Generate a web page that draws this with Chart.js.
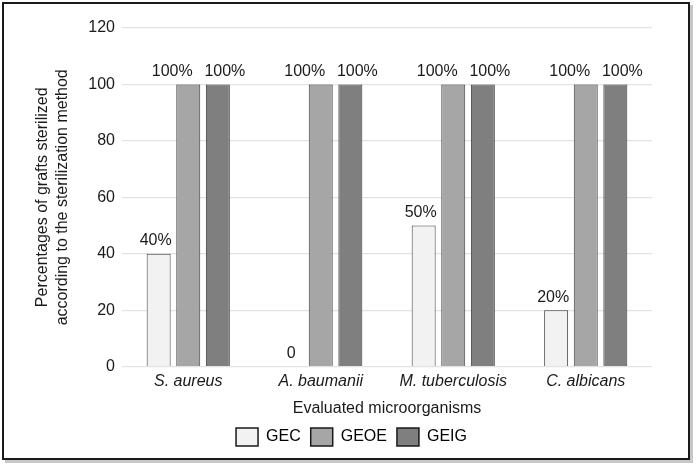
<!DOCTYPE html>
<html lang="en">
<head>
<meta charset="UTF-8">
<title>Sterilization methods</title>
<script src="https://cdn.jsdelivr.net/npm/chart.js"></script>
<style>
    html, body { margin: 0; padding: 0; background: #fff; }
    .frame { position: absolute; left: 2px; top: 2px; width: 684px; height: 454px; border: 2px solid #1a1a1a; box-shadow: 3px 3px 0 #c8c8c8; background: #fff; }
    canvas { display: block; }
</style>
</head>
<body>
<div class="frame"><canvas id="chart" width="684" height="454"></canvas></div>
<script>
// Dados
const organisms = ['S. aureus', 'A. baumanii', 'M. tuberculosis', 'C. albicans'];
const gec = [40, 0, 50, 20];
const geoe = [100, 100, 100, 100];
const geig = [100, 100, 100, 100];
const yTicks = [0, 20, 40, 60, 80, 100, 120];

const FONT = 'Liberation Sans, Arial, Helvetica, sans-serif';
// deslocamento horizontal dos rótulos (como no original, evitando sobreposição)
const labelShift = [-3, -16, 7];

// rótulos acima das barras
const valueLabels = {
    id: 'valueLabels',
    afterLayout(chart) {
        // centraliza a legenda como no original
        chart.legend.left += 9;
        chart.legend.right += 9;
    },
    afterDatasetsDraw(chart) {
        const ctx = chart.ctx;
        ctx.save();
        ctx.font = '16px ' + FONT;
        ctx.fillStyle = '#1a1a1a';
        ctx.textAlign = 'center';
        ctx.textBaseline = 'bottom';
        chart.data.datasets.forEach((ds, i) => {
            chart.getDatasetMeta(i).data.forEach((bar, j) => {
                const v = ds.data[j];
                const dx = v === 0 ? 0 : labelShift[i];
                ctx.fillText(v === 0 ? '0' : v + '%', bar.x + dx, bar.y - 5);
            });
        });
        ctx.restore();
    }
};

const barStyle = { borderColor: '#3c3c3c', borderWidth: 1, categoryPercentage: 0.67, barPercentage: 0.81 };

new Chart(document.getElementById('chart'), {
    type: 'bar',
    data: {
        labels: organisms,
        datasets: [
            { label: 'GEC', data: gec, backgroundColor: '#f2f2f2', ...barStyle },
            { label: 'GEOE', data: geoe, backgroundColor: '#a6a6a6', ...barStyle },
            { label: 'GEIG', data: geig, backgroundColor: '#7f7f7f', ...barStyle }
        ]
    },
    options: {
        responsive: false,
        animation: false,
        layout: { padding: { top: 24, right: 36, left: 29, bottom: 2 } },
        plugins: {
            tooltip: { enabled: false },
            legend: {
                position: 'bottom',
                labels: {
                    color: '#1a1a1a', font: { family: FONT, size: 16 },
                    boxWidth: 22, boxHeight: 18, padding: 10,
                    generateLabels(chart) {
                        return chart.data.datasets.map((ds, i) => ({
                            text: ds.label, fillStyle: ds.backgroundColor, strokeStyle: '#1a1a1a',
                            lineWidth: 1.5, datasetIndex: i, hidden: false
                        }));
                    }
                }
            }
        },
        scales: {
            x: {
                grid: { display: false, drawTicks: false },
                border: { display: false },
                ticks: { color: '#1a1a1a', font: { family: FONT, size: 16, style: 'italic' }, padding: 5 },
                title: { display: true, text: 'Evaluated microorganisms', color: '#1a1a1a', font: { family: FONT, size: 16 }, padding: { top: 3, bottom: 0 } }
            },
            y: {
                min: 0, max: 120,
                afterBuildTicks(axis) { axis.ticks = yTicks.map(v => ({ value: v })); },
                afterFit(axis) { axis.width = 89; },
                grid: { color: '#e2e2e2', lineWidth: 1.2, drawTicks: false },
                border: { display: false },
                ticks: { color: '#1a1a1a', font: { family: FONT, size: 16 }, padding: 7 },
                title: {
                    display: true,
                    text: ['Percentages of grafts sterilized', 'according to the sterilization method'],
                    color: '#1a1a1a', font: { family: FONT, size: 16, lineHeight: 1.25 }, padding: { bottom: 0, top: 0 }
                }
            }
        }
    },
    plugins: [valueLabels]
});
</script>
</body>
</html>
